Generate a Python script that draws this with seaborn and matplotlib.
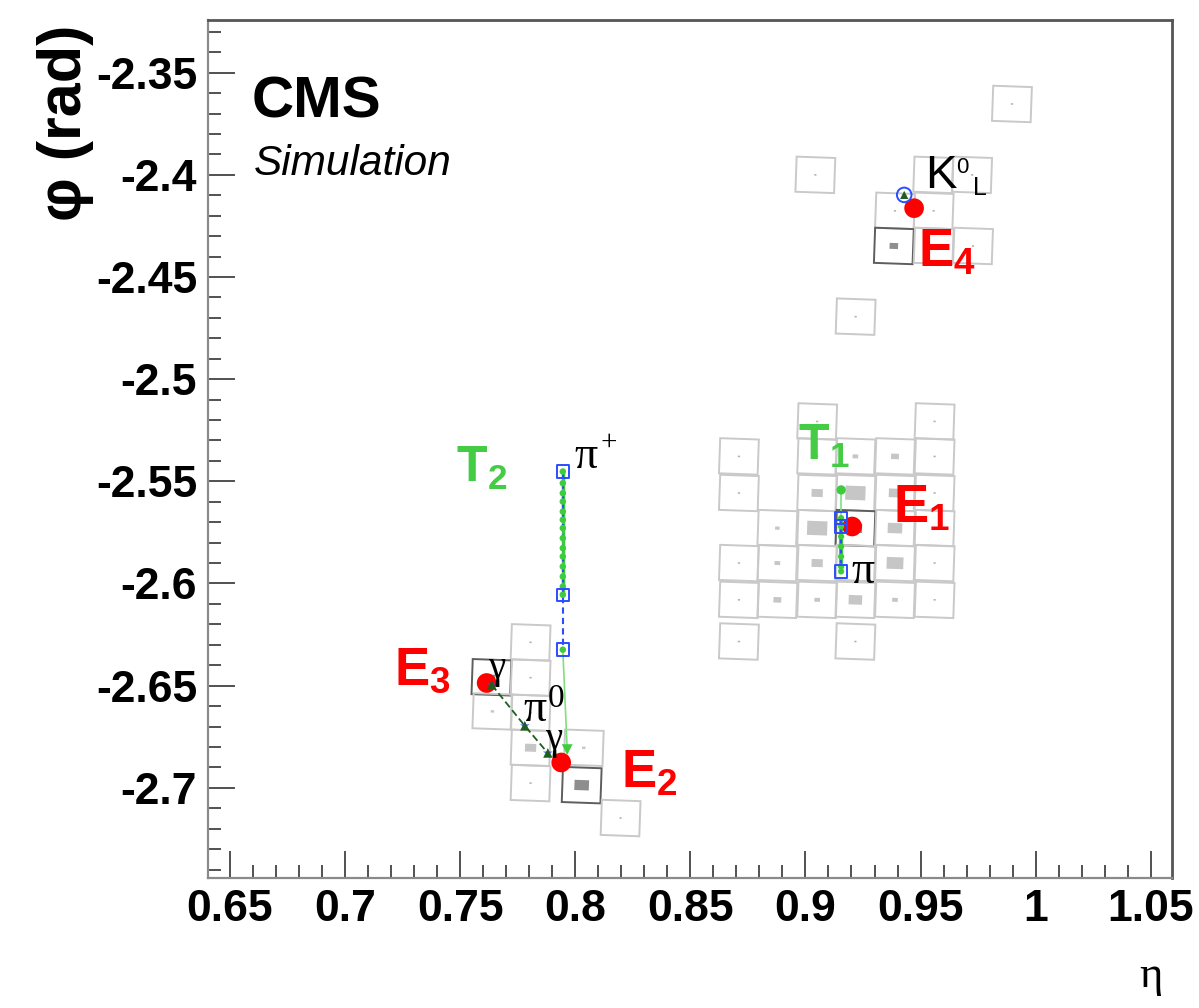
import numpy as np
import pandas as pd
import matplotlib
matplotlib.use("Agg")
import matplotlib.pyplot as plt
import seaborn as sns
from matplotlib.patches import Polygon
from matplotlib.ticker import MultipleLocator, FuncFormatter

# ---------------- data ----------------
# calorimeter cells: eta, phi, energy (arb.), seed flag
cell_eta = [0.9051, 0.9561,
            0.8711, 0.9051, 0.9217, 0.9389, 0.9561,
            0.8711, 0.9051, 0.9217, 0.9389, 0.9561,
            0.8878, 0.9051, 0.9217, 0.9389, 0.9561,
            0.8711, 0.8878, 0.9051, 0.9217, 0.9389, 0.9561,
            0.8711, 0.8878, 0.9051, 0.9217, 0.9389, 0.9561,
            0.8711, 0.9217,
            0.9043, 0.9897, 0.9218,
            0.9555, 0.9724,
            0.9389, 0.9557,
            0.9384, 0.9557, 0.9728,
            0.7806, 0.7636, 0.7806, 0.7640, 0.7806, 0.7806, 0.8037, 0.7806, 0.8028, 0.8197]
cell_phi = [-2.5207, -2.5207,
            -2.5378, -2.5378, -2.5378, -2.5378, -2.5378,
            -2.5557, -2.5557, -2.5557, -2.5557, -2.5557,
            -2.5729, -2.5729, -2.5729, -2.5729, -2.5729,
            -2.5900, -2.5900, -2.5900, -2.5900, -2.5900, -2.5900,
            -2.6080, -2.6080, -2.6080, -2.6080, -2.6080, -2.6080,
            -2.6284, -2.6284,
            -2.4000, -2.3653, -2.4694,
            -2.4000, -2.4000,
            -2.4176, -2.4176,
            -2.4348, -2.4348, -2.4348,
            -2.6288, -2.6459, -2.6461, -2.6626, -2.6633, -2.6804, -2.6804, -2.6977, -2.6987, -2.7148]
cell_e = [0.26, 0.26,
          0.26, 0.26, 0.66, 0.92, 0.26,
          0.26, 1.32, 2.37, 1.45, 0.26,
          0.53, 2.37, 1.58, 1.71, 0.26,
          0.26, 0.66, 1.32, 0.26, 1.97, 0.26,
          0.26, 0.92, 0.66, 1.58, 0.66, 0.26,
          0.26, 0.26,
          0.26, 0.26, 0.26,
          0.26, 0.26,
          0.26, 0.26,
          1.00, 0.26, 0.26,
          0.26, 0.90, 0.26, 0.40, 0.26, 1.32, 0.40, 0.26, 1.71, 0.26]
cell_seed = [0, 0,
             0, 0, 0, 0, 0,
             0, 0, 0, 0, 0,
             0, 0, 1, 0, 0,
             0, 0, 0, 0, 0, 0,
             0, 0, 0, 0, 0, 0,
             0, 0,
             0, 0, 0,
             0, 0,
             0, 0,
             1, 0, 0,
             0, 1, 0, 0, 0, 0, 0, 0, 1, 0]

# clusters
cluster_names = ["E1", "E2", "E3", "E4"]
cluster_eta = [0.9203, 0.7939, 0.7615, 0.9472]
cluster_phi = [-2.5721, -2.6876, -2.6487, -2.4163]

# track T2 (pi+)
t2_eta = 0.7946
t2_traj_phi = [-2.5452, -2.5509, -2.5558, -2.5599, -2.5648, -2.5688, -2.5729,
               -2.5778, -2.5827, -2.5868, -2.5917, -2.5966, -2.6015, -2.6055, -2.6324]
t2_hit_phi = [-2.5452, -2.6055, -2.6324]
t2_ecal_eta, t2_ecal_phi = 0.7965, -2.6813

# track T1 (pi-)
t1_eta = 0.9155
t1_traj_phi = [-2.5680, -2.5721, -2.5770, -2.5819, -2.5868, -2.5917, -2.5941]
t1_hit_phi = [-2.5680, -2.5721, -2.5941]
t1_ecal_eta, t1_ecal_phi = 0.9155, -2.5542

# pi0 -> gamma gamma
pi0_eta = [0.7637, 0.7781, 0.7881]
pi0_phi = [-2.6496, -2.6697, -2.6830]

# K0L
k0_eta, k0_phi = [0.9429], [-2.4098]

x_ticks = [0.65, 0.7, 0.75, 0.8, 0.85, 0.9, 0.95, 1.0, 1.05]
y_ticks = [-2.35, -2.4, -2.45, -2.5, -2.55, -2.6, -2.65, -2.7]

# ---------------- style ----------------
sns.set_style("white")
plt.rcParams["font.family"] = ["Liberation Sans", "DejaVu Sans"]
plt.rcParams["text.color"] = "black"
plt.rcParams["xtick.color"] = "black"
plt.rcParams["ytick.color"] = "black"
plt.rcParams["mathtext.fontset"] = "custom"
plt.rcParams["mathtext.rm"] = "Liberation Sans"
plt.rcParams["mathtext.bf"] = "Liberation Sans:bold"
plt.rcParams["mathtext.it"] = "Liberation Sans:italic"

W, H = 1199, 1008
fig = plt.figure(figsize=(W / 100, H / 100), dpi=100)
fig.patch.set_facecolor("white")
ax = fig.add_axes([208.3 / W, 1 - 877.7 / H, (1171.7 - 208.3) / W, (877.7 - 20) / H])
ax.set_facecolor("white")
ax.set_xlim(0.6406, 1.0591)
ax.set_ylim(-2.744, -2.3242)

# ---------------- cells ----------------
cells = pd.DataFrame({"eta": cell_eta, "phi": cell_phi, "e": cell_e, "seed": cell_seed})
sx, sy = 2316.0, 2044.0          # pixel per unit (for a slight screen-space tilt)
cw, ch = 0.0168, 0.0172
th = np.deg2rad(-2.0)
rot = np.array([[np.cos(th), -np.sin(th)], [np.sin(th), np.cos(th)]])


def quad(ce, cp, w, h):
    pts = np.array([[-w / 2, -h / 2], [w / 2, -h / 2], [w / 2, h / 2], [-w / 2, h / 2]])
    pix = pts * [sx, sy]
    pix = pix @ rot.T
    return pix / [sx, sy] + [ce, cp]


for _, r in cells.iterrows():
    seed = r["seed"] == 1
    ax.add_patch(Polygon(quad(r["eta"], r["phi"], cw, ch), closed=True, fill=False,
                         ec="#5e5e5e" if seed else "#c9c9c9", lw=1.4, zorder=1))
    f = min(r["e"] / 5.0, 0.6)
    ax.add_patch(Polygon(quad(r["eta"], r["phi"], cw * f * 1.1, ch * f * 0.85), closed=True,
                         fc="#8e8e8e" if seed else ("#c6c6c6" if r["e"] > 0.3 else "#b0b0b0"),
                         ec="none", zorder=2))

# ---------------- tracks ----------------
green = "#3dcc3d"
blue = "#2a4dff"
dgreen = "#1e5e1e"

# T2
t2 = pd.DataFrame({"eta": [t2_eta] * len(t2_traj_phi), "phi": t2_traj_phi})
sns.lineplot(data=t2.iloc[:-1], x="eta", y="phi", sort=False, estimator=None,
             color=green, lw=2.5, ax=ax, zorder=3)
sns.lineplot(x=[t2_eta, t2_ecal_eta], y=[t2_traj_phi[-1], t2_ecal_phi], sort=False,
             estimator=None, color="#7fe07f", lw=1.2, ax=ax, zorder=3)
sns.lineplot(x=[t2_eta] * len(t2_hit_phi), y=t2_hit_phi, sort=False, estimator=None,
             color=blue, lw=1.5, linestyle=(0, (3, 2)), ax=ax, zorder=4)
sns.scatterplot(data=t2, x="eta", y="phi", color=green, s=22, edgecolor="none",
                ax=ax, zorder=5)
sns.scatterplot(x=[t2_eta] * len(t2_hit_phi), y=t2_hit_phi, marker="s", s=80,
                facecolor="none", edgecolor=blue, linewidth=1.4, ax=ax, zorder=6)
sns.scatterplot(x=[t2_ecal_eta], y=[t2_ecal_phi], marker="v", s=60, color=green,
                edgecolor="none", ax=ax, zorder=5)

# T1
t1 = pd.DataFrame({"eta": [t1_eta] * len(t1_traj_phi), "phi": t1_traj_phi})
sns.lineplot(x=[t1_ecal_eta, t1_eta], y=[t1_ecal_phi, t1_traj_phi[0]], sort=False,
             estimator=None, color="#7fe07f", lw=1.2, ax=ax, zorder=3)
sns.lineplot(data=t1, x="eta", y="phi", sort=False, estimator=None,
             color=green, lw=3.0, ax=ax, zorder=3)
sns.lineplot(x=[t1_eta] * len(t1_hit_phi), y=t1_hit_phi, sort=False, estimator=None,
             color=blue, lw=1.5, linestyle=(0, (3, 2)), ax=ax, zorder=4)
sns.scatterplot(data=t1, x="eta", y="phi", color=green, s=20, edgecolor="none",
                ax=ax, zorder=5)
sns.scatterplot(x=[t1_eta] * len(t1_hit_phi), y=t1_hit_phi, marker="s", s=80,
                facecolor="none", edgecolor=blue, linewidth=1.4, ax=ax, zorder=6)
sns.scatterplot(x=[t1_ecal_eta], y=[t1_ecal_phi], marker="o", s=45, color=green,
                edgecolor="none", ax=ax, zorder=5)

# clusters (red dots)
cl = pd.DataFrame({"name": cluster_names, "eta": cluster_eta, "phi": cluster_phi})
sns.scatterplot(data=cl, x="eta", y="phi", color="#ff0000", s=200, edgecolor="none",
                ax=ax, zorder=4)

# pi0 photons
sns.lineplot(x=pi0_eta, y=pi0_phi, sort=False, estimator=None, color=dgreen, lw=1.3,
             linestyle=(0, (4, 2)), ax=ax, zorder=6)
sns.scatterplot(x=pi0_eta, y=pi0_phi, marker="^", s=45, color=dgreen, edgecolor="none",
                ax=ax, zorder=7)
sns.scatterplot(x=pi0_eta, y=pi0_phi, marker="*", s=55, color=blue, edgecolor="none",
                alpha=0.8, ax=ax, zorder=6)

# K0L
sns.scatterplot(x=k0_eta, y=k0_phi, marker="o", s=110, facecolor="none", edgecolor=blue,
                linewidth=1.4, ax=ax, zorder=6)
sns.scatterplot(x=k0_eta, y=k0_phi, marker="^", s=35, color=dgreen, edgecolor="none",
                ax=ax, zorder=7)

# ---------------- labels ----------------
red = "#ff0000"
tgreen = "#45cc45"
ax.text(0.9379, -2.5704, r"$\mathbf{E}_{\mathbf{1}}$", color=red, fontsize=38, zorder=8)
ax.text(0.8197, -2.6999, r"$\mathbf{E}_{\mathbf{2}}$", color=red, fontsize=38, zorder=8)
ax.text(0.7211, -2.6496, r"$\mathbf{E}_{\mathbf{3}}$", color=red, fontsize=38, zorder=8)
ax.text(0.9487, -2.4451, r"$\mathbf{E}_{\mathbf{4}}$", color=red, fontsize=38, zorder=8)
ax.text(0.8969, -2.5395, r"$\mathbf{T}_{\mathbf{1}}$", color=tgreen, fontsize=36, zorder=8)
ax.text(0.7484, -2.5501, r"$\mathbf{T}_{\mathbf{2}}$", color=tgreen, fontsize=36, zorder=8)

serif = ["Liberation Serif", "DejaVu Serif"]
ax.text(0.9522, -2.4064, "K", fontsize=34, color="black", zorder=8)
ax.text(0.9656, -2.3991, "0", fontsize=16, color="black", zorder=8)
ax.text(0.9730, -2.4098, "L", fontsize=18, color="black", zorder=8)
ax.text(0.7997, -2.5434, "π", fontsize=33, family=serif, color="black", zorder=8)
ax.text(0.8111, -2.5346, "+", fontsize=21, family=serif, color="black", zorder=8)
ax.text(0.9199, -2.5997, "π", fontsize=33, family=serif, color="black", zorder=8)
ax.text(0.7774, -2.6675, "π", fontsize=33, family=serif, color="black", zorder=8)
ax.text(0.7882, -2.6603, "0", fontsize=24, family=serif, color="black", zorder=8)
ax.text(0.7623, -2.6461, "γ", fontsize=28, family=serif, color="black", zorder=8)
ax.text(0.7867, -2.6809, "γ", fontsize=28, family=serif, color="black", zorder=8)

fig.text(252 / W, 1 - 118 / H, "CMS", fontsize=42, fontweight="bold", color="black",
         ha="left", va="baseline")
fig.text(254 / W, 1 - 175 / H, "Simulation", fontsize=30.5, style="italic", color="black",
         ha="left", va="baseline")
fig.text(66 / W, 1 - 25 / H, "φ (rad)", fontsize=44, fontweight="bold", rotation=90,
         color="black", ha="center", va="top")
fig.text(1163 / W, 1 - 987 / H, "η", fontsize=32, family=serif, color="black",
         ha="right", va="baseline")

# ---------------- axes ----------------
ax.set_xlabel("")
ax.set_ylabel("")
ax.set_xticks(x_ticks)
ax.set_yticks(y_ticks)
ax.xaxis.set_minor_locator(MultipleLocator(0.01))
ax.yaxis.set_minor_locator(MultipleLocator(0.01))
fmt = FuncFormatter(lambda v, p: "%g" % round(v, 4))
ax.xaxis.set_major_formatter(fmt)
ax.yaxis.set_major_formatter(fmt)
ax.tick_params(which="both", direction="in", bottom=True, left=True, top=False,
               right=False, color="#333333", labelcolor="black", width=1.2)
ax.tick_params(which="major", length=19.5, pad=8, labelsize=32)
ax.tick_params(which="minor", length=9.5)
for lab in ax.get_xticklabels() + ax.get_yticklabels():
    lab.set_fontweight("bold")
for side in ["left", "bottom"]:
    ax.spines[side].set_color("#8a8a8a")
    ax.spines[side].set_linewidth(1.6)
for side in ["top", "right"]:
    ax.spines[side].set_color("#555555")
    ax.spines[side].set_linewidth(2.0)

fig.savefig("out.png", dpi=100)
